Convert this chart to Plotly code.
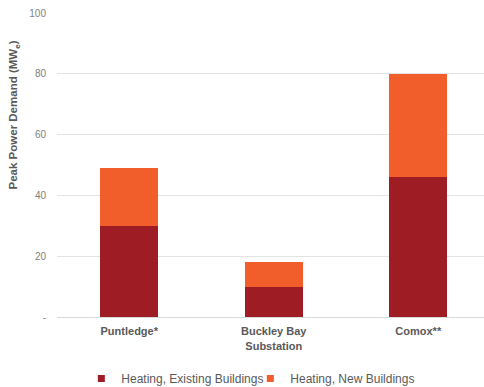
import plotly.graph_objects as go

categories = ["Puntledge*", "Buckley Bay<br>Substation", "Comox**"]
existing = [30, 10, 46]
new_bldg = [19, 8, 34]
series_names = ["Heating, Existing Buildings", "Heating, New Buildings"]
series_colors = ["#9E1C24", "#F15E2C"]
tick_vals = [0, 20, 40, 60, 80, 100]
tick_text = ["-", "20", "40", "60", "80", "100"]
y_title = "<b>Peak Power Demand (MW<sub>e</sub>)</b>"

fig = go.Figure()
for vals, name, col in zip([existing, new_bldg], series_names, series_colors):
    fig.add_bar(x=categories, y=vals, name=name, showlegend=False,
                marker=dict(color=col, line=dict(width=0)))
# legend entries with small square markers
for name, col in zip(series_names, series_colors):
    fig.add_scatter(x=[None], y=[None], mode="markers", name=name,
                    marker=dict(symbol="square", size=7, color=col))

fig.update_layout(
    width=484, height=387,
    barmode="stack", bargap=0.6,
    paper_bgcolor="white", plot_bgcolor="white",
    margin=dict(l=57, r=0, t=13, b=70, autoexpand=False),
    font=dict(family="Liberation Sans, Arial, sans-serif", color="#595959", size=10),
    showlegend=True,
    legend=dict(orientation="h", x=0.057, xanchor="left", y=-0.155, yanchor="top",
                font=dict(size=12, color="#595959"), traceorder="normal",
                itemwidth=30, entrywidthmode="pixels", entrywidth=124),
    xaxis=dict(range=[-0.5, 2.455], showgrid=False, showline=True,
               linecolor="#d9d9d9", linewidth=1, ticks="",
               tickfont=dict(size=11, color="#595959", family="Liberation Sans, Arial, sans-serif"),
               ticklabelstandoff=4),
    yaxis=dict(range=[0, 100], tickvals=tick_vals, ticktext=tick_text,
               showgrid=True, gridcolor="#e3e3e3", gridwidth=1,
               zeroline=False, ticks="", ticklabelstandoff=10,
               tickfont=dict(size=10, color="#7f7f7f")),
    annotations=[dict(text=y_title, xref="paper", yref="paper",
                      x=-0.1, y=0.664, xanchor="center", yanchor="middle",
                      textangle=-90, showarrow=False,
                      font=dict(size=11.5, color="#595959"))],
)
fig.update_xaxes(tickprefix="<b>", ticksuffix="</b>")

fig.write_html("out.html")
